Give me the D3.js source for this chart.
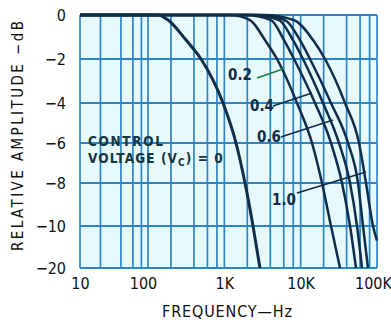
<!DOCTYPE html>
<html><head><meta charset="utf-8">
<script src="https://cdn.jsdelivr.net/npm/d3@7"></script>
<style>
body{margin:0;background:#fff}
svg{display:block}
text{font-family:"Liberation Sans Narrow","Arial Narrow","DejaVu Sans Condensed","Liberation Sans",sans-serif}
</style>
</head><body>
<svg id="c" width="391" height="320"></svg>
<script>
// ---- data ----
const controlVoltages = ["0", "0.2", "0.4", "0.6", "0.8", "1.0"];
// [frequency Hz, relative amplitude dB]
const curveV00 = [[10,0],[135,0],[183,-0.23],[315,-1.14],[495,-2],[961,-4],[1422,-6],[1866,-8],[2375,-10],[2931,-20]];
const curveV02 = [[10,0],[1187,0],[2170,-0.23],[3411,-1.14],[4898,-2],[8954,-4],[14080,-6],[19040,-8],[24970,-10],[32770,-20]];
const curveV04 = [[10,0],[1866,0],[4088,-0.23],[6048,-1.14],[8177,-2],[15410,-4],[24970,-6],[34800,-8],[44310,-10],[53090,-20]];
const curveV06 = [[10,0],[2304,0],[5202,-0.23],[7935,-1.14],[10730,-2],[19630,-4],[31790,-6],[44310,-8],[54730,-10],[63630,-20]];
const curveV08 = [[10,0],[2761,0],[6234,-0.23],[9802,-1.14],[13260,-2],[24970,-4],[41720,-6],[56390,-8],[65560,-10],[76230,-20]];
const curveV10 = [[10,0],[3309,0],[8177,-0.23],[14510,-1.14],[20840,-2],[38100,-4],[58120,-6],[71780,-8],[88660,-10],[100000,-13.5]];
const seriesValues = [curveV00, curveV02, curveV04, curveV06, curveV08, curveV10];

const yTickValues = [0, -2, -4, -6, -8, -10, -20];
const yTickLabels = ["0", "\u22122", "\u22124", "\u22126", "\u22128", "\u221210", "\u221220"];
const xTickValues = [10, 100, 1000, 10000, 100000];
const xTickLabels = ["10", "100", "1K", "10K", "100K"];
const gridMultipliers = [2, 4, 6, 8];

// labelled curves: label text, label anchor [Hz, dB], leader start / end [Hz, dB]
const curveLabels = ["0.2", "0.4", "0.6", "1.0"];
const labelAnchors = [[1603, -2.73], [3115, -4.15], [3848, -5.7], [6048, -8.8]];
const leaderStarts = [[2679, -2.86], [4341, -4.15], [5526, -5.7], [8954, -8.47]];
const leaderEnds = [[5870, -2.45], [14080, -3.55], [26530, -4.85], [71780, -7.45]];

// ---- scales ----
const svg = d3.select("#c");
const x = d3.scaleLog().domain([10, 100, 100000]).range([80, 148, 377]);
const y = d3.scaleLinear().domain(yTickValues).range([15, 59, 103, 143, 183, 226, 268]);
const x0 = 80, x1 = 377, y0 = 15, y1 = 268;

const gridColor = "#2b86c6";
const ink = "#0f2c49";
const narrow = '"Liberation Sans Narrow","Arial Narrow","DejaVu Sans Condensed",sans-serif';

svg.append("rect").attr("x", x0).attr("y", y0).attr("width", x1 - x0).attr("height", y1 - y0)
  .attr("fill", "#e8f9fb");

// vertical grid
const vLines = [];
for (let d = 10; d < 100000; d *= 10) {
  vLines.push(d);
  gridMultipliers.forEach(m => vLines.push(d * m));
}
vLines.push(100000);
svg.append("g").selectAll("line").data(vLines).join("line")
  .attr("x1", d => x(d)).attr("x2", d => x(d))
  .attr("y1", y0).attr("y2", y1)
  .attr("stroke", gridColor).attr("stroke-width", 1.7);

// horizontal grid
svg.append("g").selectAll("line").data(yTickValues).join("line")
  .attr("x1", x0).attr("x2", x1)
  .attr("y1", d => y(d)).attr("y2", d => y(d))
  .attr("stroke", gridColor).attr("stroke-width", 1.8);

// axes labels
const yAxis = d3.axisLeft(y).tickValues(yTickValues).tickSize(0).tickPadding(14)
  .tickFormat((d, i) => yTickLabels[i]);
const gy = svg.append("g").attr("transform", `translate(${x0},0)`).call(yAxis);
gy.select(".domain").remove();
gy.selectAll("text").attr("font-size", 16).attr("fill", "#111").style("font-family", narrow);

const xAxis = d3.axisBottom(x).tickValues(xTickValues).tickSize(0).tickPadding(10)
  .tickFormat((d, i) => xTickLabels[i]);
const gx = svg.append("g").attr("transform", `translate(0,${y1})`).call(xAxis);
gx.select(".domain").remove();
gx.selectAll("text").attr("font-size", 16).attr("fill", "#111").style("font-family", narrow)
  .attr("dx", (d, i) => i === 1 ? -5 : (i === xTickValues.length - 1 ? -4 : 0));

// axis titles
svg.append("text").attr("transform", "translate(23,136) rotate(-90)")
  .attr("text-anchor", "middle").attr("font-size", 15).attr("fill", "#111")
  .attr("textLength", 230).attr("lengthAdjust", "spacing")
  .text("RELATIVE AMPLITUDE \u2212dB");
svg.append("text").attr("x", 227).attr("y", 317)
  .attr("text-anchor", "middle").attr("font-size", 16).attr("fill", "#111")
  .attr("textLength", 130).attr("lengthAdjust", "spacing")
  .text("FREQUENCY\u2014Hz");

// curves
const line = d3.line().x(d => x(d[0])).y(d => y(d[1])).curve(d3.curveMonotoneX);
svg.append("g").selectAll("path").data(seriesValues).join("path")
  .attr("d", line).attr("fill", "none").attr("stroke", ink)
  .attr("stroke-width", (d, i) => i === 0 ? 3 : 2.5).attr("stroke-linejoin", "round");

// leader lines and labels
const leaderColors = ["#1e7a3a", ink, ink, ink];
svg.append("g").selectAll("line").data(curveLabels).join("line")
  .attr("x1", (d, i) => x(leaderStarts[i][0])).attr("y1", (d, i) => y(leaderStarts[i][1]))
  .attr("x2", (d, i) => x(leaderEnds[i][0])).attr("y2", (d, i) => y(leaderEnds[i][1]))
  .attr("stroke", (d, i) => leaderColors[i]).attr("stroke-width", 1.6);
svg.append("g").selectAll("text").data(curveLabels).join("text")
  .attr("x", (d, i) => x(labelAnchors[i][0])).attr("y", (d, i) => y(labelAnchors[i][1]))
  .attr("text-anchor", "middle").attr("dominant-baseline", "central")
  .attr("font-size", 15).attr("font-weight", "bold").attr("fill", ink)
  .text(d => d);

// control voltage note
const note = svg.append("g").attr("fill", "#153640").attr("font-weight", "bold").attr("font-size", 13.5);
note.append("text").attr("x", 88).attr("y", 146).attr("textLength", 75).attr("lengthAdjust", "spacing").text("CONTROL");
const t2 = note.append("text").attr("x", 88).attr("y", 163).attr("letter-spacing", 1.1);
t2.append("tspan").text("VOLTAGE (V");
t2.append("tspan").attr("font-size", 10).attr("dy", 3).text("C");
t2.append("tspan").attr("dy", -3).text(") = " + controlVoltages[0]);
</script>
</body></html>
